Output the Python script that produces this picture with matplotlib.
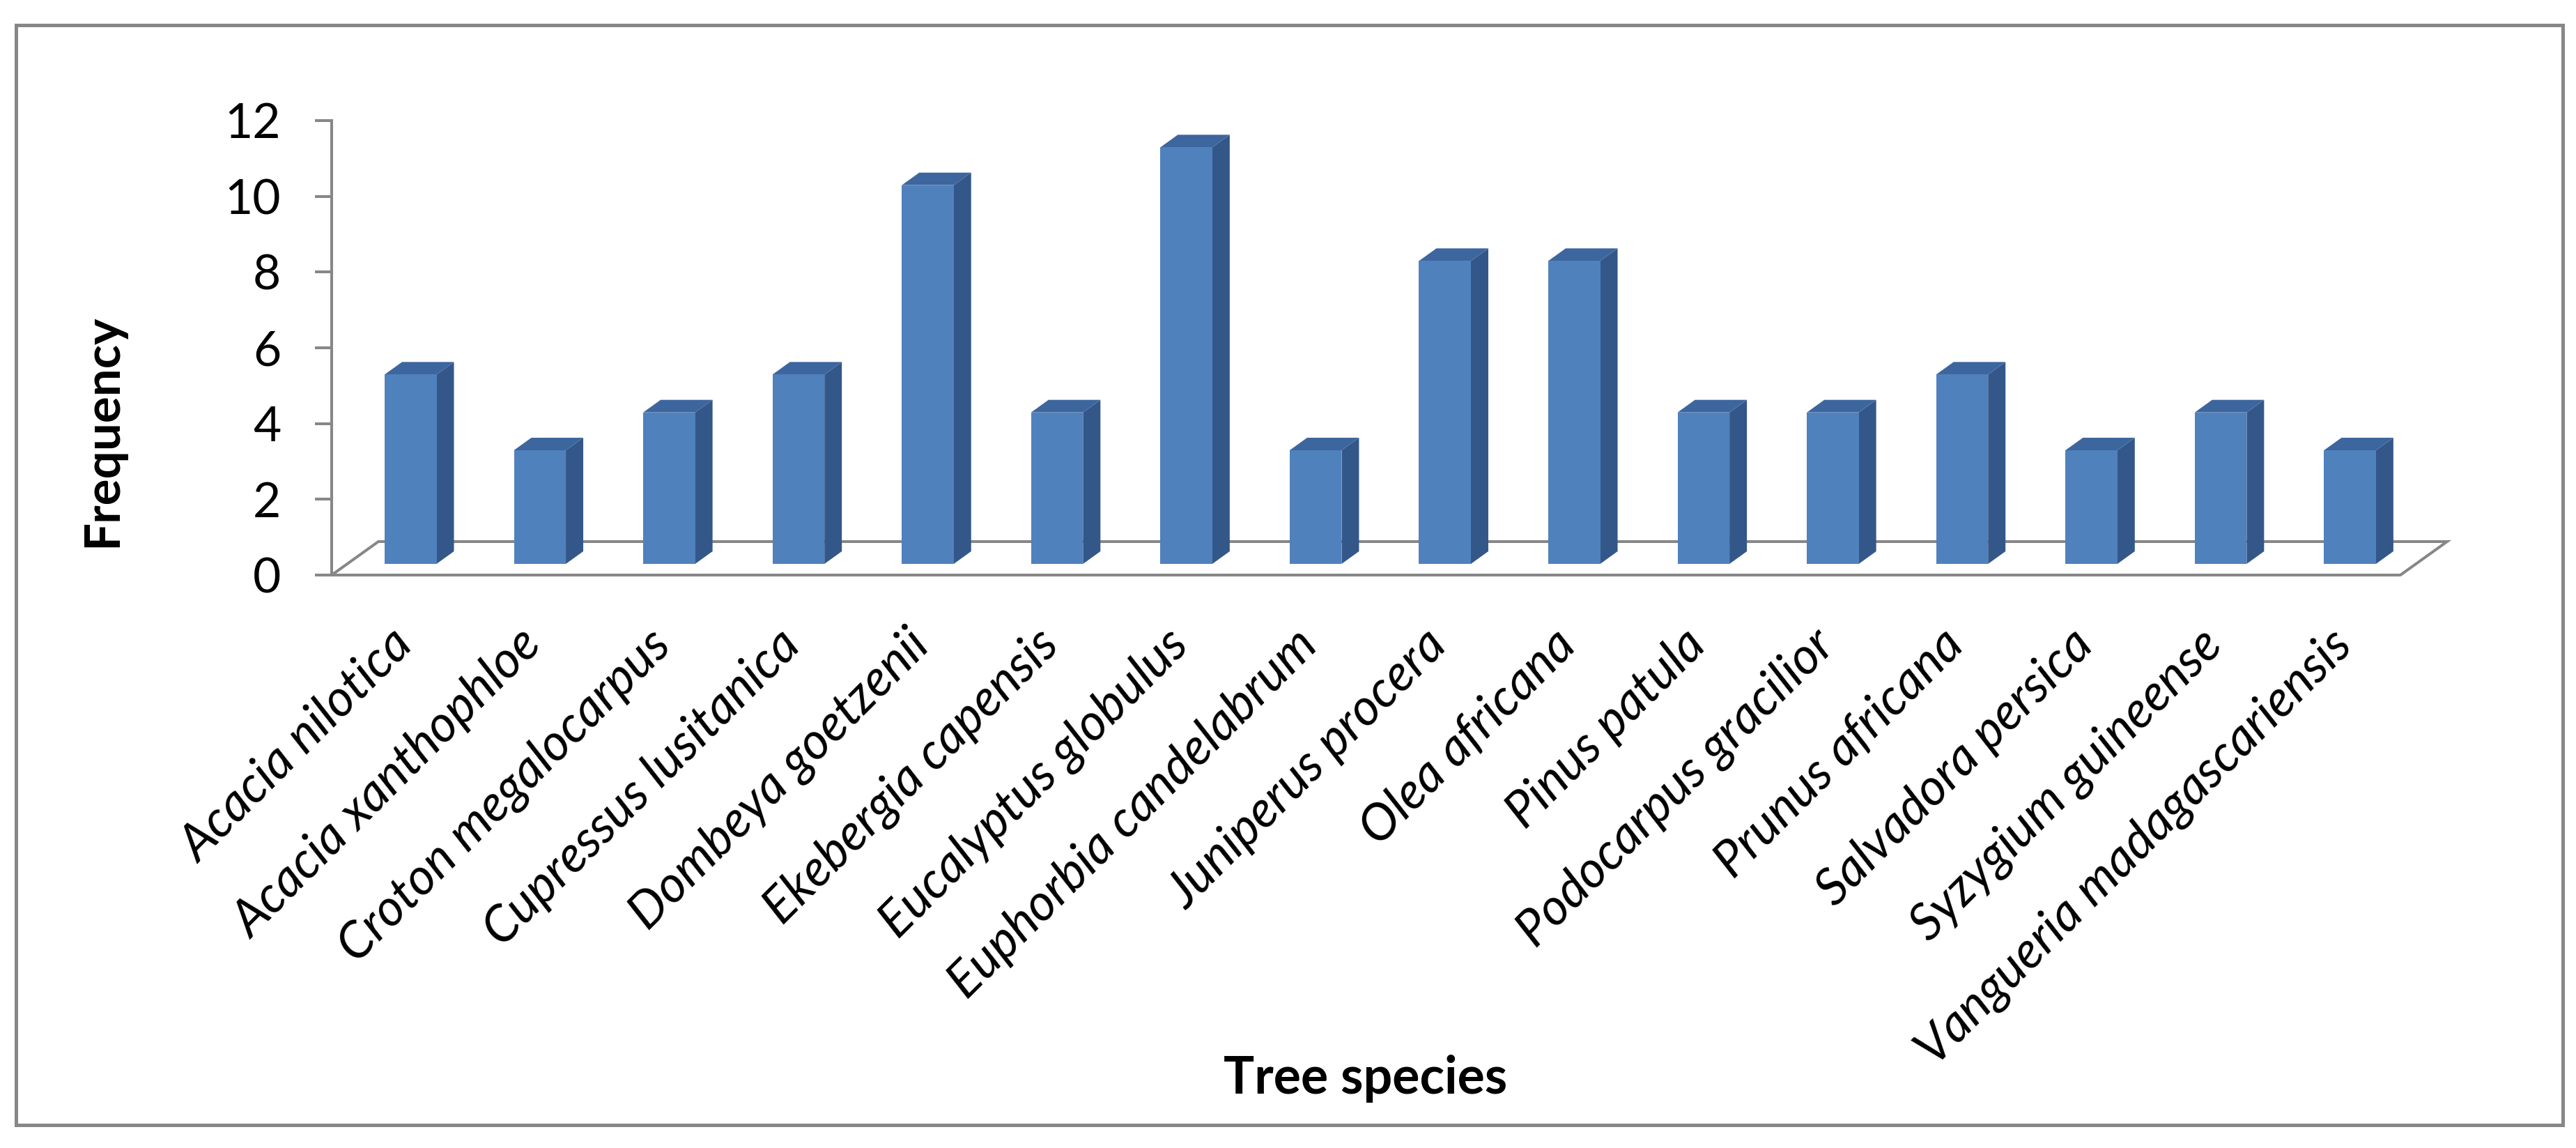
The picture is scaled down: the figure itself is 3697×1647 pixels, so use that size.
import matplotlib
matplotlib.use("Agg")
import matplotlib.pyplot as plt
from matplotlib.patches import Polygon, Rectangle
import numpy as np

plt.rcParams['font.family'] = ['Lato', 'DejaVu Sans']

species = ["Acacia nilotica", "Acacia xanthophloe", "Croton megalocarpus",
           "Cupressus lusitanica", "Dombeya goetzenii", "Ekebergia capensis",
           "Eucalyptus globulus", "Euphorbia candelabrum", "Juniperus procera",
           "Olea africana", "Pinus patula", "Podocarpus gracilior",
           "Prunus africana", "Salvadora persica", "Syzygium guineense",
           "Vangueria madagascariensis"]
frequency = [5, 3, 4, 5, 10, 4, 11, 3, 8, 8, 4, 4, 5, 3, 4, 3]
yticks = [0, 2, 4, 6, 8, 10, 12]

W, H = 3697, 1647
DPI = 100
fig = plt.figure(figsize=(W / DPI, H / DPI), dpi=DPI)

gray = '#878787'
front_col = '#4F81BD'
side_col = '#34578A'
top_col = '#3D669E'

# plot area in pixels: y-axis at x=476, value 0 at y=825, 12 at y=173
px_x0, px_x1 = 476, 3512
px_y0, px_y12 = 825, 173
ax = fig.add_axes([px_x0 / W, 1 - px_y0 / H, (px_x1 - px_x0) / W, (px_y0 - px_y12) / H])
ax.patch.set_alpha(0)

cat_px = 185.56          # pixels per category
unit_px = (px_y0 - px_y12) / 12.0
ax.set_xlim(-0.5, -0.5 + (px_x1 - px_x0) / cat_px)
ax.set_ylim(0, 12)

# floor depth (full) and bar depth, converted to data units
floor_dx, floor_dy = 67 / cat_px, 48 / unit_px
bar_dx, bar_dy = 25 / cat_px, 18 / unit_px
bar_shift = 76 / cat_px          # left edge of front face inside category
bar_w = 74.5 / cat_px
bar_base = 16 / unit_px

n = len(species)
x = np.arange(n)

# floor outline
floor = Polygon([(-0.5, 0), (n - 0.5, 0), (n - 0.5 + floor_dx, floor_dy),
                 (-0.5 + floor_dx, floor_dy)], closed=True, facecolor='white',
                edgecolor=gray, linewidth=2.9, zorder=1, clip_on=False)
ax.add_patch(floor)

bars = ax.bar(x - 0.5 + bar_shift, frequency, width=bar_w, bottom=bar_base,
              align='edge', color=front_col, edgecolor='none', zorder=4)

for b in bars:
    x0, y0 = b.get_x(), b.get_y()
    x1, y1 = x0 + b.get_width(), y0 + b.get_height()
    side = Polygon([(x1, y0), (x1 + bar_dx, y0 + bar_dy), (x1 + bar_dx, y1 + bar_dy),
                    (x1, y1)], closed=True, facecolor=side_col, edgecolor='none', zorder=3)
    top = Polygon([(x0, y1), (x1, y1), (x1 + bar_dx, y1 + bar_dy),
                   (x0 + bar_dx, y1 + bar_dy)], closed=True, facecolor=top_col,
                  edgecolor='none', zorder=3)
    ax.add_patch(side)
    ax.add_patch(top)

# axes styling
for s in ['top', 'right', 'bottom']:
    ax.spines[s].set_visible(False)
ax.spines['left'].set_color(gray)
ax.spines['left'].set_linewidth(2.9)
ax.spines['left'].set_bounds(0, 12)
ax.set_yticks(yticks)
ax.tick_params(axis='y', direction='out', length=17.3, width=2.9, color=gray,
               pad=35, labelsize=50, labelcolor='black')

ax.set_xticks(x - 0.5 + bar_shift + bar_w / 2 - 0.17)
ax.set_xticklabels(species, rotation=45, ha='right', rotation_mode='anchor',
                   fontsize=52, style='italic')
ax.tick_params(axis='x', length=0, pad=48)

fig.text(1960 / W, 1 - 1569 / H, 'Tree species', ha='center', va='baseline',
         fontsize=53, fontweight='bold')
fig.text(167 / W, 1 - 618 / H, 'Frequency', rotation=90, rotation_mode='anchor',
         ha='center', va='baseline', fontsize=51, fontweight='bold')

# outer chart border
fig.patches.append(Rectangle((23 / W, 1 - 1614 / H), (3678 - 23) / W, (1614 - 36) / H,
                             transform=fig.transFigure, fill=False, edgecolor=gray,
                             linewidth=3.6))

fig.savefig('out.png', dpi=DPI)
